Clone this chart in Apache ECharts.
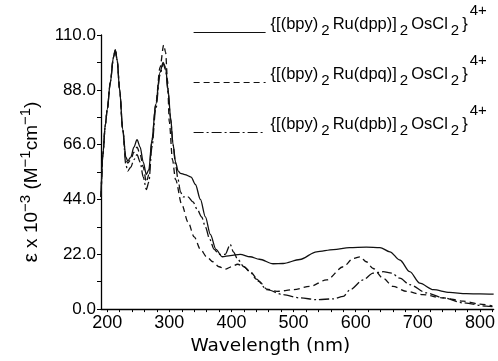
<!DOCTYPE html>
<html><head><meta charset="utf-8">
<script src="https://cdn.jsdelivr.net/npm/echarts@6/dist/echarts.min.js"></script>
<style>html,body{margin:0;padding:0;background:#fff}#c{width:498px;height:361px}</style>
</head><body><div id="c"></div>
<script>
// ---- data (wavelength nm, epsilon x 10^-3) ----
const dppWl  = [190,193,197,200,205,210,213,216,220,225,230,233,238,243,248,253,258,263,267,272,278,285,290,294,298,302,306,310,314,318,325,335,342,350,358,366,375,385,398,414,430,445,467,483,510,537,564,590,617,639,655,671,687,703,725,751,778,800,822];
const dppEps = [45,62,74,80,91,101,104,100,88,72,61,59.5,61,65,68,65,59,54,56,68,82,95,99,97,88,77,66,59,55.5,54.5,54,53,50,44,37,30,24,21,21.5,22,21,20,18.2,18.3,19.9,23,23.9,24.7,24.9,24.7,23,19.7,15,10.4,7.8,6.7,6.2,6.1,6.0];
const dpqWl  = [190,193,197,200,205,210,213,216,220,225,230,233,238,243,248,253,258,263,267,272,278,285,291,294,297,300,305,310,320,330,340,350,360,370,380,390,400,410,420,430,445,457,473,500,526,553,580,596,607,617,628,644,660,682,708,741,773,800,820];
const dpqEps = [45,62,74,80,91,101,104,100,88,72,60,58.6,60,63,65,62,57,51,54,67,82,97,106,103,92,75,60,52,42,35,29,24,21,19,17,16,17,18,17,15,11,8,7.1,7.8,9.1,11.7,17,20.3,21,19,16.3,12.4,9.1,7.1,5.8,4.5,3.2,2,1.2];
const dpbWl  = [190,193,197,200,205,210,213,216,220,225,230,233,238,243,248,253,258,263,267,272,278,285,290,294,298,302,306,310,314,318,322,330,338,345,352,358,365,372,380,390,398,403,410,420,430,440,457,483,510,537,564,580,591,612,628,644,658,671,687,714,741,773,810,820];
const dpbEps = [45,62,74,80,91,101,104,100,88,72,58,55.4,57,60,62,59,53,48,51,65,80,94,98.5,96,87,76,66,58,52,47,45,45,43,40,37,33,28,24,22,22,26,23,20,17,15,12,7.8,5.8,4.5,3.8,4.1,5.1,7.8,11.7,14.4,15,14.4,12.4,9.8,6.5,4.5,2.5,1.2,1.0];
const xMajorTicks = [200,300,400,500,600,700,800];
const xMinorTicks = [200,220,240,260,280,300,320,340,360,380,400,420,440,460,480,500,520,540,560,580,600,620,640,660,680,700,720,740,760,780,800,820];
const legendLabels = {
  dpp: '{[(bpy){s|2}Ru(dpp)]{s|2}OsCl{s|2}}{p|4+}',
  dpq: '{[(bpy){s|2}Ru(dpq)]{s|2}OsCl{s|2}}{p|4+}',
  dpb: '{[(bpy){s|2}Ru(dpb)]{s|2}OsCl{s|2}}{p|4+}'
};

const FF = 'Liberation Sans, Arial, sans-serif';
const FN = 'Liberation Sans Narrow, Liberation Sans, Arial, sans-serif';
const FD = 'DejaVu Sans, Liberation Sans, sans-serif';
const pairs = (xs, ys) => xs.map((x, i) => [x, ys[i]]);
const lineTypes = { dpp: 'solid', dpq: [6, 4], dpb: [10, 3, 2, 3] };

function makeLegend(name, top) {
  return {
    data: [name], left: 193, top: top, padding: 0,
    itemWidth: 72, itemHeight: 0.1, selectedMode: false,
    itemStyle: { opacity: 0, borderWidth: 0 },
    lineStyle: { width: 1.2 },
    formatter: n => legendLabels[n] + '\n{g| }',
    textStyle: {
      fontFamily: FF, fontSize: 16.5, color: '#000', lineHeight: 16,
      rich: {
        s: { fontFamily: FF, fontSize: 15, color: '#000', lineHeight: 16, padding: [12, 3, 0, 3] },
        p: { fontFamily: FF, fontSize: 15, color: '#000', lineHeight: 16, padding: [0, 0, 28, 2] },
        g: { fontFamily: FF, fontSize: 2, lineHeight: 16 }
      }
    }
  };
}

const chart = echarts.init(document.getElementById('c'), null, { renderer: 'canvas' });
chart.setOption({
  animation: false,
  backgroundColor: '#fff',
  grid: { left: 101, right: 4, top: 35, bottom: 48, containLabel: false },
  legend: [makeLegend('dpp', 3), makeLegend('dpq', 53), makeLegend('dpb', 103)],
  xAxis: {
    type: 'value', min: 190, max: 822,
    name: 'Wavelength (nm)', nameLocation: 'middle', nameGap: 27,
    nameTextStyle: { fontFamily: FD, fontSize: 18.5, color: '#000', padding: [0, 54, 0, 0] },
    axisLine: { lineStyle: { color: '#000', width: 1.3 } },
    axisTick: { show: true, length: 3, customValues: xMinorTicks, lineStyle: { color: '#000', width: 1 } },
    axisLabel: { customValues: xMajorTicks, margin: 5, fontFamily: FN, fontSize: 18, color: '#000' },
    splitLine: { show: false }
  },
  yAxis: {
    type: 'value', min: 0, max: 110, interval: 11,
    name: '{e|ε} x 10{s|−3} (M{s|−1}cm{s|−1})',
    nameLocation: 'middle', nameRotate: 90, nameGap: 56,
    nameTextStyle: {
      fontFamily: FF, fontSize: 19, color: '#000', padding: [0, 20, 0, 0],
      rich: {
        e: { fontFamily: FF, fontSize: 21, color: '#000' },
        s: { fontFamily: FF, fontSize: 15, color: '#000', padding: [0, 0, 12, 0] }
      }
    },
    axisLine: { show: true, lineStyle: { color: '#000', width: 1.3 } },
    axisTick: { show: true, length: 4, lineStyle: { color: '#000', width: 1 } },
    axisLabel: {
      margin: 5, fontFamily: FN, fontSize: 17, color: '#000',
      formatter: v => (Math.round(v) % 22 === 0 ? v.toFixed(1) : '')
    },
    splitLine: { show: false }
  },
  series: [
    { name: 'dpp', data: pairs(dppWl, dppEps) },
    { name: 'dpq', data: pairs(dpqWl, dpqEps) },
    { name: 'dpb', data: pairs(dpbWl, dpbEps) }
  ].map(s => ({
    type: 'line', name: s.name, data: s.data, symbol: 'none', showSymbol: false,
    smooth: 0.3, smoothMonotone: 'x', silent: true,
    lineStyle: { color: '#111', width: 1.3, type: lineTypes[s.name] },
    itemStyle: { color: '#111' }
  }))
});
</script></body></html>
